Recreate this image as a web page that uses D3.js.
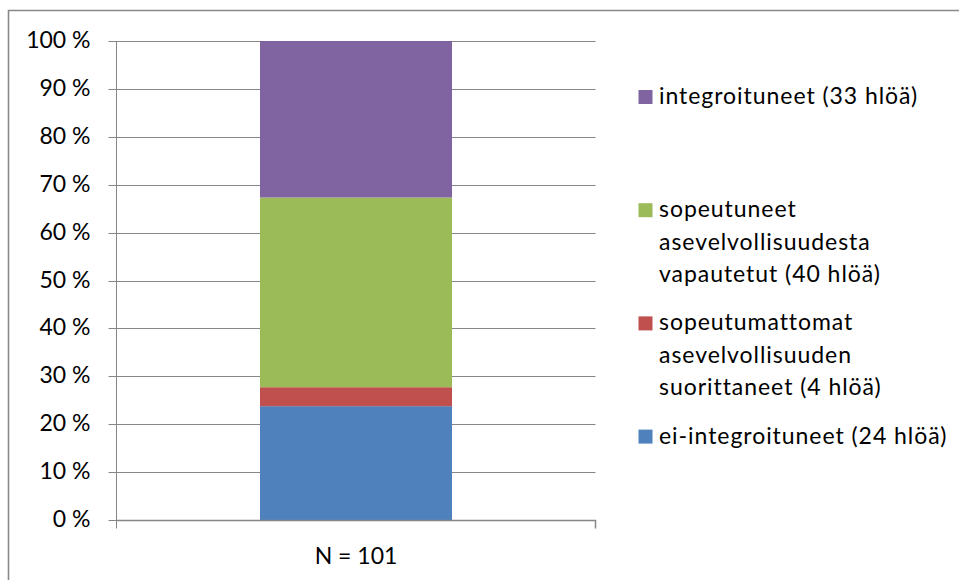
<!DOCTYPE html>
<html>
<head>
<meta charset="utf-8">
<script src="https://cdn.jsdelivr.net/npm/d3@7/dist/d3.min.js"></script>
<style>
  html, body { margin: 0; padding: 0; background: #fff; }
  svg { display: block; }
  text { font-family: Lato, "Open Sans", sans-serif; fill: #000; }
</style>
</head>
<body>
<svg id="chart" width="959" height="580"></svg>
<script>
// ---- data ----
const categories = ["N = 101"];
const seriesNames = [
  "ei-integroituneet (24 hlöä)",
  "sopeutumattomat asevelvollisuuden suorittaneet (4 hlöä)",
  "sopeutuneet asevelvollisuudesta vapautetut (40 hlöä)",
  "integroituneet (33 hlöä)"
];
const seriesCounts = [24, 4, 40, 33];
const seriesColors = ["#4F81BD", "#C0504D", "#9BBB59", "#8064A2"];
const legendLines = [
  ["ei-integroituneet (24 hlöä)"],
  ["sopeutumattomat", "asevelvollisuuden", "suorittaneet (4 hlöä)"],
  ["sopeutuneet", "asevelvollisuudesta", "vapautetut (40 hlöä)"],
  ["integroituneet (33 hlöä)"]
];
const yTicks = [0, 10, 20, 30, 40, 50, 60, 70, 80, 90, 100];
const yTickLabels = ["0 %", "10 %", "20 %", "30 %", "40 %", "50 %", "60 %", "70 %", "80 %", "90 %", "100 %"];

// ---- layout ----
const svg = d3.select("#chart");
const plot = { left: 116.5, right: 595.5, top: 41, bottom: 520 };
const fontSize = 23;

// outer chart border (left & top visible)
svg.append("path")
  .attr("d", "M8.5,580 L8.5,10.5 L959,10.5")
  .attr("fill", "none").attr("stroke", "#898989").attr("stroke-width", 1.6);

const x = d3.scaleBand().domain(categories).range([plot.left, plot.right]).paddingInner(0.6).paddingOuter(0.3);
const y = d3.scaleLinear().domain([0, 100]).range([plot.bottom, plot.top]);

// gridlines
svg.append("g").selectAll("line").data(yTicks.filter(d => d > 0)).join("line")
  .attr("x1", plot.left).attr("x2", plot.right)
  .attr("y1", d => Math.round(y(d)) + 0.5).attr("y2", d => Math.round(y(d)) + 0.5)
  .attr("stroke", "#868686").attr("stroke-width", 1);

// stacked bars
const total = d3.sum(seriesCounts);
const rows = categories.map(c => {
  const o = { cat: c };
  seriesNames.forEach((s, i) => o[s] = seriesCounts[i] / total * 100);
  return o;
});
const stack = d3.stack().keys(seriesNames)(rows);
const bandW = 192;
svg.append("g").selectAll("g").data(stack).join("g")
  .attr("fill", (d, i) => seriesColors[i])
  .selectAll("rect").data(d => d).join("rect")
  .attr("x", d => x(d.data.cat) + x.bandwidth() / 2 - bandW / 2)
  .attr("width", bandW)
  .attr("y", d => y(d[1]))
  .attr("height", d => y(d[0]) - y(d[1]));

// y axis
const yAxis = d3.axisLeft(y).tickValues(yTicks).tickFormat((d, i) => yTickLabels[i]).tickSize(8).tickPadding(18);
const gy = svg.append("g").attr("transform", `translate(${plot.left},0)`).call(yAxis);
gy.select(".domain").attr("stroke", "#868686").attr("d", `M0,${plot.top}V${plot.bottom + 8}`);
gy.selectAll(".tick line").attr("stroke", "#868686");
gy.selectAll(".tick").attr("transform", d => `translate(0,${Math.round(y(d)) + 0.5})`);
gy.selectAll(".tick text").attr("font-size", fontSize).attr("font-family", "Lato").attr("fill", "#000").attr("dy", "0.28em");

// x axis
const xAxis = d3.axisBottom(x).tickSize(0).tickPadding(27);
const gx = svg.append("g").attr("transform", `translate(0,${plot.bottom + 0.5})`).call(xAxis);
gx.select(".domain").attr("stroke", "#868686").attr("stroke-width", 1.5).attr("d", `M${plot.left},0H${plot.right}V8`);
gx.selectAll(".tick text").attr("font-size", fontSize).attr("font-family", "Lato").attr("fill", "#000");
gx.append("line").attr("x1", plot.left).attr("x2", plot.left).attr("y1", 0).attr("y2", 8).attr("stroke", "#868686");

// legend (reverse order, top = last series)
const legendTop = 104, slot = 113.2, lineH = 32.5;
const order = d3.range(seriesNames.length).reverse();
const lg = svg.append("g");
order.forEach((si, k) => {
  const base = legendTop + k * slot;
  lg.append("rect").attr("x", 638.5).attr("y", base - 14).attr("width", 14).attr("height", 14).attr("fill", seriesColors[si]);
  const t = lg.append("text").attr("x", 659).attr("y", base).attr("font-size", fontSize).attr("letter-spacing", "0.95px");
  legendLines[si].forEach((ln, j) => {
    t.append("tspan").attr("x", 659).attr("y", base + j * lineH).text(ln);
  });
});
</script>
</body>
</html>
